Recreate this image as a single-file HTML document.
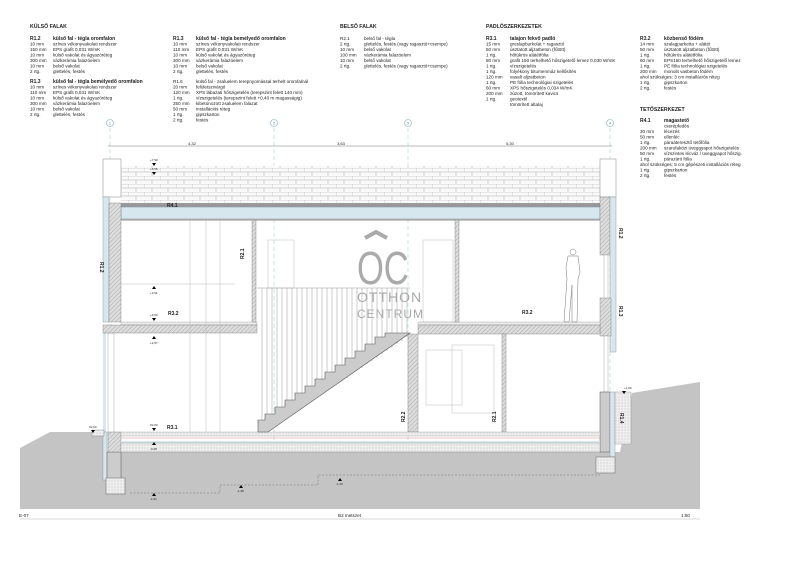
<!DOCTYPE html>
<html><head><meta charset="utf-8"><style>
html,body{margin:0;padding:0;background:#fff}
svg{display:block}
text{font-family:"Liberation Sans",sans-serif;fill:#222}
.t{font-size:4.6px}
.b{font-size:5px;font-weight:bold}
.h{font-size:5.2px;font-weight:bold}
</style></head><body>
<svg width="800" height="565" viewBox="0 0 800 565" xmlns="http://www.w3.org/2000/svg">
<defs>
<pattern id="hat" width="3" height="3" patternUnits="userSpaceOnUse" patternTransform="rotate(45)"><rect width="3" height="3" fill="#ddd"/><line x1="0" y1="0" x2="0" y2="3" stroke="#888" stroke-width="0.6"/></pattern>
<pattern id="brick" width="16" height="8" patternUnits="userSpaceOnUse"><rect width="16" height="8" fill="#fafafa"/><path d="M0 0H16M0 4H16M0 0V4M8 4V8" stroke="#aaa" stroke-width="0.5" fill="none"/></pattern>
<pattern id="dot" width="3" height="3" patternUnits="userSpaceOnUse"><rect width="3" height="3" fill="#eee"/><circle cx="1" cy="1" r="0.35" fill="#777"/></pattern>
</defs>

<g>
<text x="30" y="28" class="h">KÜLSŐ FALAK</text>
<text x="30" y="40" class="b">R1.2</text><text x="53" y="40" class="b">külső fal - tégla oromfalon</text>
<g class="t"><text x="30" y="45.5">10 mm</text><text x="53" y="45.5">színes vékonyvakolati rendszer</text>
<text x="30" y="51">150 mm</text><text x="53" y="51">EPS grafit 0,031 W/mK</text>
<text x="30" y="56.5">10 mm</text><text x="53" y="56.5">külső vakolat és ágyazóréteg</text>
<text x="30" y="62">300 mm</text><text x="53" y="62">vázkerámia falazóelem</text>
<text x="30" y="67.5">10 mm</text><text x="53" y="67.5">belső vakolat</text>
<text x="30" y="73">2 rtg.</text><text x="53" y="73">glettelés, festés</text></g>
<text x="30" y="83" class="b">R1.3</text><text x="53" y="83" class="b">külső fal - tégla bemélyedő oromfalon</text>
<g class="t"><text x="30" y="88.5">10 mm</text><text x="53" y="88.5">színes vékonyvakolati rendszer</text>
<text x="30" y="94">110 mm</text><text x="53" y="94">EPS grafit 0,031 W/mK</text>
<text x="30" y="99.5">10 mm</text><text x="53" y="99.5">külső vakolat és ágyazóréteg</text>
<text x="30" y="105">300 mm</text><text x="53" y="105">vázkerámia falazóelem</text>
<text x="30" y="110.5">10 mm</text><text x="53" y="110.5">belső vakolat</text>
<text x="30" y="116">2 rtg.</text><text x="53" y="116">glettelés, festés</text></g>

<text x="173" y="40" class="b">R1.3</text><text x="196" y="40" class="b">külső fal - tégla bemélyedő oromfalon</text>
<g class="t"><text x="173" y="45.5">10 mm</text><text x="196" y="45.5">színes vékonyvakolati rendszer</text>
<text x="173" y="51">110 mm</text><text x="196" y="51">EPS grafit 0,031 W/mK</text>
<text x="173" y="56.5">10 mm</text><text x="196" y="56.5">külső vakolat és ágyazóréteg</text>
<text x="173" y="62">300 mm</text><text x="196" y="62">vázkerámia falazóelem</text>
<text x="173" y="67.5">10 mm</text><text x="196" y="67.5">belső vakolat</text>
<text x="173" y="73">2 rtg.</text><text x="196" y="73">glettelés, festés</text>
<text x="173" y="83">R1.6</text><text x="196" y="83">külső fal - zsaluelem terepnyomással terhelt oromfalnál</text>
<text x="173" y="88.5">20 mm</text><text x="196" y="88.5">felületszivárgó</text>
<text x="173" y="94">120 mm</text><text x="196" y="94">XPS lábazati hőszigetelés (terepszint felett 140 mm)</text>
<text x="173" y="99.5">1 rtg.</text><text x="196" y="99.5">vízszigetelés (terepszint felett +0,40 m magasságig)</text>
<text x="173" y="105">250 mm</text><text x="196" y="105">kibetonozott zsaluelem falazat</text>
<text x="173" y="110.5">50 mm</text><text x="196" y="110.5">installációs réteg</text>
<text x="173" y="116">1 rtg.</text><text x="196" y="116">gipszkarton</text>
<text x="173" y="121.5">2 rtg.</text><text x="196" y="121.5">festés</text></g>

<text x="340" y="28" class="h">BELSŐ FALAK</text>
<g class="t"><text x="340" y="40">R2.1</text><text x="364" y="40">belső fal -  tégla</text>
<text x="340" y="45.5">2 rtg.</text><text x="364" y="45.5">glettelés, festés (vagy ragasztó+csempe)</text>
<text x="340" y="51">10 mm</text><text x="364" y="51">belső vakolat</text>
<text x="340" y="56.5">100 mm</text><text x="364" y="56.5">vázkerámia falazóelem</text>
<text x="340" y="62">10 mm</text><text x="364" y="62">belső vakolat</text>
<text x="340" y="67.5">2 rtg.</text><text x="364" y="67.5">glettelés, festés (vagy ragasztó+csempe)</text></g>

<text x="486" y="28" class="h">PADLÓSZERKEZETEK</text>
<text x="486" y="40" class="b">R3.1</text><text x="510" y="40" class="b">talajon fekvő padló</text>
<g class="t"><text x="486" y="45.5">15 mm</text><text x="510" y="45.5">greslapburkolat + ragasztó</text>
<text x="486" y="51">50 mm</text><text x="510" y="51">úsztatott aljzatbeton (fűtött)</text>
<text x="486" y="56.5">1 rtg.</text><text x="510" y="56.5">hőtükrös alátétfólia</text>
<text x="486" y="62">80 mm</text><text x="510" y="62">grafit 150 terhelhető hőszigetelő lemez 0,030 W/mK</text>
<text x="486" y="67.5">1 rtg.</text><text x="510" y="67.5">vízszigetelés</text>
<text x="486" y="73">1 rtg.</text><text x="510" y="73">folyékony bitumenmáz kellősítés</text>
<text x="486" y="78.5">120 mm</text><text x="510" y="78.5">vasalt aljzatbeton</text>
<text x="486" y="84">1 rtg.</text><text x="510" y="84">PE fólia technológiai szigetelés</text>
<text x="486" y="89.5">60 mm</text><text x="510" y="89.5">XPS hőszigetelés 0,034 W/mK</text>
<text x="486" y="95">200 mm</text><text x="510" y="95">zúzott, tömörített kavics</text>
<text x="486" y="100.5">1 rtg.</text><text x="510" y="100.5">geotextil</text>
<text x="510" y="106">tömörített altalaj</text></g>

<text x="640" y="40" class="b">R3.2</text><text x="664" y="40" class="b">közbenső födém</text>
<g class="t"><text x="640" y="45.5">14 mm</text><text x="664" y="45.5">szalagparketta + alátét</text>
<text x="640" y="51">50 mm</text><text x="664" y="51">úsztatott aljzatbeton (fűtött)</text>
<text x="640" y="56.5">1 rtg.</text><text x="664" y="56.5">hőtükrös alátétfólia</text>
<text x="640" y="62">60 mm</text><text x="664" y="62">EPS150 terhelhető hőszigetelő lemez</text>
<text x="640" y="67.5">1 rtg.</text><text x="664" y="67.5">PE fólia technológiai szigetelés</text>
<text x="640" y="73">200 mm</text><text x="664" y="73">monolit vasbeton födém</text>
<text x="640" y="78.5">ahol szükséges: 3 cm installációs réteg</text>
<text x="640" y="84">1 rtg.</text><text x="664" y="84">gipszkarton</text>
<text x="640" y="89.5">2 rtg.</text><text x="664" y="89.5">festés</text></g>
<text x="640" y="111" class="h">TETŐSZERKEZET</text>
<text x="640" y="122" class="b">R4.1</text><text x="664" y="122" class="b">magastető</text>
<g class="t"><text x="664" y="127.5">cserépfedés</text>
<text x="640" y="133">30 mm</text><text x="664" y="133">lécezés</text>
<text x="640" y="138.5">50 mm</text><text x="664" y="138.5">ellenléc</text>
<text x="640" y="144">1 rtg.</text><text x="664" y="144">páraáteresztő tetőfólia</text>
<text x="640" y="149.5">200 mm</text><text x="664" y="149.5">szarufaközi üveggyapot hőszigetelés</text>
<text x="640" y="155">50 mm</text><text x="664" y="155">vízszintes lécváz / üveggyapot hőszig.</text>
<text x="640" y="160.5">1 rtg.</text><text x="664" y="160.5">párazáró fólia</text>
<text x="640" y="166">ahol szükséges: 5 cm gépészeti installációs réteg</text>
<text x="640" y="171.5">1 rtg.</text><text x="664" y="171.5">gipszkarton</text>
<text x="640" y="177">2 rtg.</text><text x="664" y="177">festés</text></g>
</g>

<g stroke="#9cc" stroke-width="0.5" stroke-dasharray="4,3" fill="none">
<line x1="110" y1="128" x2="110" y2="470"/><line x1="274" y1="128" x2="274" y2="470"/>
<line x1="408" y1="128" x2="408" y2="470"/><line x1="610" y1="128" x2="610" y2="470"/>
</g>
<g fill="#fff" stroke="#7ab" stroke-width="0.6"><circle cx="110" cy="123" r="3.5"/><circle cx="274" cy="123" r="3.5"/><circle cx="408" cy="123" r="3.5"/><circle cx="610" cy="123" r="3.5"/></g>
<g font-size="4" text-anchor="middle"><text x="110" y="124.5" style="fill:#58a">1</text><text x="274" y="124.5" style="fill:#58a">2</text><text x="408" y="124.5" style="fill:#58a">3</text><text x="610" y="124.5" style="fill:#58a">4</text></g>
<line x1="108" y1="146" x2="612" y2="146" stroke="#777" stroke-width="0.5"/>
<g font-size="4" text-anchor="middle"><text x="192" y="145">4,32</text><text x="341" y="145">3,63</text><text x="510" y="145">5,30</text></g>

<polygon points="20,448 50,432 103,432 103,452 600,452 620,452 632,393 700,382 700,509 20,509" fill="#c4c4c4"/>
<line x1="20" y1="519" x2="700" y2="519" stroke="#ccc" stroke-width="0.8"/>
<text x="19" y="517" class="t">E-07</text>
<text x="338" y="517" class="t">B2 metszet</text>
<text x="690" y="517" class="t" text-anchor="end">1:50</text>
<polyline points="130,493 220,493 220,485 318,485 318,475 600,475" fill="none" stroke="#777" stroke-width="0.5" stroke-dasharray="2,1.5"/>

<rect x="121" y="166" width="479" height="37" fill="url(#brick)"/>
<rect x="103" y="159" width="18" height="38" fill="#fff" stroke="#999" stroke-width="0.6"/>
<rect x="600" y="159" width="16" height="38" fill="#fff" stroke="#999" stroke-width="0.6"/>
<rect x="103" y="203" width="513" height="4" fill="#999"/>
<rect x="121" y="207" width="479" height="12" fill="#d6e8ee" stroke="#889" stroke-width="0.5"/>
<line x1="121" y1="220" x2="600" y2="220" stroke="#666" stroke-width="0.8"/>

<rect x="103" y="197" width="6" height="125" fill="#d6e8ee" stroke="#889" stroke-width="0.4"/>
<rect x="109" y="203" width="12" height="119" fill="url(#hat)" stroke="#777" stroke-width="0.4"/>
<rect x="103" y="333" width="3" height="100" fill="#d6e8ee"/>
<rect x="108" y="333" width="6" height="100" fill="#fff" stroke="#999" stroke-width="0.4"/>
<rect x="103" y="432" width="4" height="48" fill="#d6e8ee" stroke="#889" stroke-width="0.4"/>
<rect x="107" y="452" width="14" height="28" fill="#ccc" stroke="#555" stroke-width="0.5"/>
<rect x="106" y="478" width="19" height="16" fill="url(#dot)" stroke="#666" stroke-width="0.5"/>
<rect x="108" y="432" width="13" height="20" fill="url(#hat)" stroke="#777" stroke-width="0.4"/>
<rect x="92" y="430" width="12" height="6" fill="url(#dot)" stroke="#777" stroke-width="0.4"/>

<rect x="600" y="197" width="10" height="58" fill="url(#hat)" stroke="#777" stroke-width="0.4"/>
<rect x="610" y="197" width="6" height="155" fill="#d6e8ee" stroke="#889" stroke-width="0.4"/>
<rect x="600" y="298" width="11" height="38" fill="url(#hat)" stroke="#777" stroke-width="0.4"/>
<rect x="604" y="255" width="4" height="43" fill="#fff" stroke="#999" stroke-width="0.4"/>
<rect x="604" y="336" width="4" height="56" fill="#fff" stroke="#999" stroke-width="0.4"/>
<rect x="600" y="392" width="10" height="60" fill="#ccc" stroke="#555" stroke-width="0.5"/>
<rect x="610" y="392" width="5" height="65" fill="#d6e8ee" stroke="#889" stroke-width="0.4"/>
<rect x="615" y="392" width="16" height="52" fill="url(#dot)" stroke="#888" stroke-width="0.4"/>
<rect x="596" y="457" width="19" height="16" fill="url(#dot)" stroke="#666" stroke-width="0.5"/>

<rect x="121" y="322" width="136" height="3" fill="url(#dot)" stroke="#888" stroke-width="0.3"/>
<rect x="103" y="325" width="154" height="8" fill="url(#hat)" stroke="#777" stroke-width="0.4"/>
<rect x="418" y="322" width="182" height="3" fill="url(#dot)" stroke="#888" stroke-width="0.3"/>
<rect x="418" y="325" width="182" height="9" fill="url(#hat)" stroke="#777" stroke-width="0.4"/>

<rect x="252" y="220" width="4" height="102" fill="url(#hat)" stroke="#777" stroke-width="0.4"/>
<rect x="455" y="220" width="4" height="102" fill="url(#hat)" stroke="#777" stroke-width="0.4"/>
<rect x="408" y="334" width="10" height="98" fill="url(#hat)" stroke="#777" stroke-width="0.4"/>
<rect x="502" y="334" width="4" height="98" fill="url(#hat)" stroke="#777" stroke-width="0.4"/>

<rect x="121" y="432" width="479" height="4" fill="url(#dot)" stroke="#888" stroke-width="0.3"/>
<line x1="121" y1="438" x2="600" y2="438" stroke="#d88" stroke-width="0.6"/>
<rect x="121" y="441" width="479" height="2" fill="#d6e8ee"/>
<rect x="121" y="443" width="479" height="9" fill="url(#dot)" stroke="#888" stroke-width="0.4"/>

<g stroke="#bbb" stroke-width="0.5" fill="none">
<line x1="190" y1="220" x2="190" y2="432"/><line x1="206" y1="220" x2="206" y2="432"/><line x1="220" y1="220" x2="220" y2="432"/>
<line x1="121" y1="284" x2="235" y2="284"/>
<rect x="268" y="240" width="26" height="48"/><rect x="423" y="240" width="30" height="82"/>
<rect x="452" y="345" width="42" height="68"/><rect x="426" y="350" width="36" height="55"/>
</g>
<g stroke="#999" stroke-width="0.5">
<line x1="257" y1="288" x2="410" y2="288"/>
<path d="M262 288V430M267 288V430M272 288V428M277 288V424M282 288V421M287 288V418M292 288V414M297 288V411M302 288V408M307 288V404M312 288V401M317 288V398M322 288V394M327 288V391M332 288V388M337 288V384M342 288V381M347 288V378M352 288V374M357 288V371M362 288V368M367 288V364M372 288V361M377 288V358M382 288V354M387 288V351M392 288V348M397 288V344M402 288V341M407 288V337" fill="none"/>
</g>
<polygon points="258,420 265,420 265,414 275,414 275,407 285,407 285,400 295,400 295,393 305,393 305,386 315,386 315,379 325,379 325,372 335,372 335,365 345,365 345,358 355,358 355,351 365,351 365,344 375,344 375,337 385,337 385,333 410,333 268,432 258,432" fill="#ccc" stroke="#555" stroke-width="0.6"/>

<path d="M365 238 L376 232 L387 238" fill="none" stroke="#aaa" stroke-width="4"/>
<text x="357" y="284" font-size="46" style="fill:#aaa" transform="translate(357,0) scale(0.75,1) translate(-357,0)">OC</text>
<text x="357" y="302" font-size="14" style="fill:#aaa;letter-spacing:1px">OTTHON</text>
<text x="357" y="318" font-size="12" style="fill:#aaa;letter-spacing:1px">CENTRUM</text>

<g fill="none" stroke="#777" stroke-width="0.5">
<circle cx="573" cy="252" r="3"/>
<path d="M568 256 L578 256 L580 272 L578 279 L577 322 L572 322 L572 285 L569 322 L564 322 L567 279 L566 268 Z"/>
</g>

<g class="b">
<text x="167" y="207">R4.1</text><text x="168" y="315">R3.2</text><text x="167" y="429">R3.1</text><text x="522" y="314">R3.2</text>
</g>
<g font-size="5" font-weight="bold">
<text transform="translate(100,262) rotate(90)">R1.2</text>
<text transform="translate(244,259) rotate(-90)">R2.1</text>
<text transform="translate(405,422) rotate(-90)">R2.2</text>
<text transform="translate(496,422) rotate(-90)">R2.1</text>
<text transform="translate(619,228) rotate(90)">R1.2</text>
<text transform="translate(619,306) rotate(90)">R1.3</text>
<text transform="translate(620,413) rotate(90)">R1.4</text>
</g>
<g fill="#000">
<path d="M152 163h4l-2 3z"/><path d="M152 172h4l-2 3z"/><path d="M152 289h4l-2-3z"/><path d="M152 318h4l-2 3z"/><path d="M152 339h4l-2-3z"/>
<path d="M152 428h4l-2 3z"/><path d="M152 445h4l-2-3z"/><path d="M152 496h4l-2-3z"/><path d="M239 488h4l-2-3z"/><path d="M338 481h4l-2-3z"/>
<path d="M91 430h4l-2 3z"/><path d="M622 391h4l-2 3z"/>
</g>
<g font-size="3" style="fill:#444">
<text x="150" y="161">+7,50</text><text x="150" y="170">+6,56</text><text x="150" y="294">+3,91</text><text x="150" y="316">+3,00</text><text x="150" y="344">+2,57</text>
<text x="150" y="426">±0,00</text><text x="150" y="450">-0,28</text><text x="150" y="500">-1,51</text><text x="237" y="492">-1,38</text><text x="336" y="485">-1,15</text>
<text x="89" y="428">±0,00</text><text x="624" y="389">+1,00</text>
</g>
</svg>
</body></html>
